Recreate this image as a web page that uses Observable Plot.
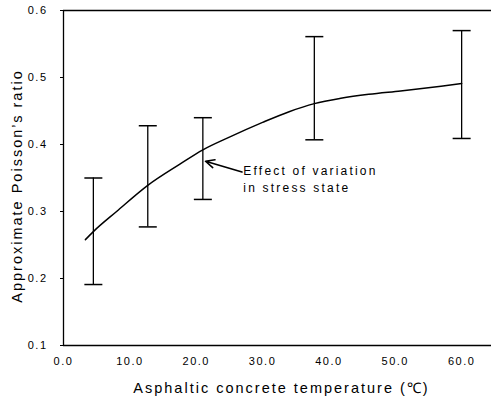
<!DOCTYPE html>
<html>
<head>
<meta charset="utf-8">
<script src="https://cdn.jsdelivr.net/npm/d3@7"></script>
<script src="https://cdn.jsdelivr.net/npm/@observablehq/plot@0.6"></script>
<style>
  body { margin: 0; background: #fff; }
  #chart svg { display: block; }
</style>
</head>
<body>
<div id="chart"></div>
<script>
// Error bars: temperature (°C), low and high Poisson's ratio
const barTemps = [4.5, 12.7, 21.0, 37.8, 60.0];
const barLow   = [0.191, 0.277, 0.318, 0.407, 0.409];
const barHigh  = [0.350, 0.428, 0.440, 0.561, 0.570];

// Fitted curve
const curveTemps  = [3.3, 4.5, 8.0, 12.7, 17.6, 21.0, 25.0, 30.0, 34.0, 37.8, 41.8, 46.0, 50.8, 56.9, 60.0];
const curveValues = [0.258, 0.270, 0.300, 0.339, 0.371, 0.392, 0.411, 0.433, 0.449, 0.461, 0.469, 0.475, 0.480, 0.487, 0.491];

// Ticks
const xTicks = [0, 10, 20, 30, 40, 50, 60];
const yTicks = [0.1, 0.2, 0.3, 0.4, 0.5, 0.6];

// Annotation
const noteText = "Effect of variation\nin stress state";
const noteAt = {x: 27.1, y: 0.350};
const arrowFrom = {x: 26.9, y: 0.359};
const arrowTo = {x: 21.4, y: 0.375};

const xTitle = "Asphaltic concrete temperature (\u2103)";
const yTitle = "Approximate Poisson\u2019s ratio";

const bars = barTemps.map((t, i) => ({t, lo: barLow[i], hi: barHigh[i]}));
const curve = curveTemps.map((t, i) => ({t, v: curveValues[i]}));

const capSymbol = {
  draw(ctx) { ctx.moveTo(-9, 0); ctx.lineTo(9, 0); }
};

const chart = Plot.plot({
  width: 491,
  height: 407,
  marginLeft: 63,
  marginRight: 0,
  marginTop: 10,
  marginBottom: 62,
  style: {fontFamily: "'Liberation Sans', Arial, sans-serif", fontSize: "11px", color: "#000", background: "#fff", letterSpacing: "1.5px"},
  x: {domain: [0, 64.5]},
  y: {domain: [0.1, 0.6]},
  marks: [
    Plot.axisX({ticks: xTicks, tickFormat: d3.format(".1f"), tickSize: 0, tickPadding: 12, label: null}),
    Plot.axisY({ticks: yTicks, tickFormat: d3.format(".1f"), tickSize: 3, tickPadding: 13, label: null}),
    Plot.ruleY([0.1, 0.6], {stroke: "#000", strokeWidth: 1.3}),
    Plot.ruleX([0], {stroke: "#000", strokeWidth: 1.3}),
    Plot.ruleX(bars, {x: "t", y1: "lo", y2: "hi", stroke: "#000", strokeWidth: 1.3}),
    Plot.dot(bars, {x: "t", y: "lo", symbol: capSymbol, stroke: "#000", strokeWidth: 1.5, fill: "none"}),
    Plot.dot(bars, {x: "t", y: "hi", symbol: capSymbol, stroke: "#000", strokeWidth: 1.5, fill: "none"}),
    Plot.line(curve, {x: "t", y: "v", curve: "monotone-x", stroke: "#000", strokeWidth: 1.5}),
    Plot.arrow([{}], {x1: () => arrowFrom.x, y1: () => arrowFrom.y, x2: () => arrowTo.x, y2: () => arrowTo.y, stroke: "#000", strokeWidth: 1.6, headLength: 9, headAngle: 50}),
    Plot.text([noteText], {x: () => noteAt.x, y: () => noteAt.y, text: d => d, textAnchor: "start", fontSize: 12, lineHeight: 1.45, fill: "#000"}),
    Plot.text([xTitle], {frameAnchor: "bottom", dy: 47, dx: 4, text: d => d, textAnchor: "middle", fontSize: 14.5, fill: "#000"}),
    Plot.text([yTitle], {frameAnchor: "left", dx: -46, dy: 8, rotate: -90, text: d => d, textAnchor: "middle", fontSize: 14.5, fill: "#000"})
  ]
});
// wider letter spacing for the titles and the note
chart.querySelectorAll("[font-size]").forEach(el => {
  const s = el.getAttribute("font-size");
  if (s === "14.5") el.setAttribute("letter-spacing", "2px");
  if (s === "12") el.setAttribute("letter-spacing", "2.2px");
});
document.getElementById("chart").appendChild(chart);
</script>
</body>
</html>
